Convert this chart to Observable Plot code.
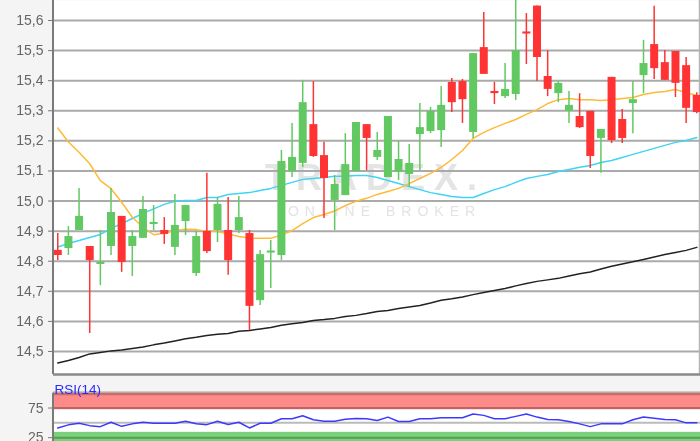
<!DOCTYPE html>
<html><head><meta charset="utf-8">
<script src="https://cdn.jsdelivr.net/npm/d3@7"></script>
<script src="https://cdn.jsdelivr.net/npm/@observablehq/plot@0.6"></script>
<style>
html,body{margin:0;padding:0;background:#f4f4f4;overflow:hidden;}
#wrap{position:relative;width:700px;height:441px;overflow:hidden;font-family:"Liberation Sans",Arial,sans-serif;}
#main{position:absolute;left:0;top:0;}
#rsi{position:absolute;left:0;top:376px;}
g[fill="#e4e4e4"] text{letter-spacing:9px;}
g[fill="#e3e3e3"] text{letter-spacing:6px;}
</style></head><body><div id="wrap"><div id="main"></div><div id="rsi"></div></div>
<script>
// ---- data ----
const openP  = [14.836,14.842,14.902,14.849,14.789,14.849,14.949,14.849,14.876,14.922,14.902,14.846,14.932,14.759,14.899,14.902,14.902,14.902,14.892,14.669,14.829,14.819,15.098,15.125,15.254,15.151,15.002,15.018,15.098,15.254,15.145,15.078,15.095,15.088,15.221,15.231,15.234,15.394,15.397,15.228,15.510,15.364,15.347,15.354,15.560,15.648,15.414,15.357,15.298,15.281,15.298,15.208,15.411,15.271,15.324,15.417,15.520,15.460,15.497,15.450,15.351];
const highP  = [14.892,14.915,15.042,14.849,14.902,15.042,14.949,14.902,15.015,14.985,14.945,15.022,14.985,14.900,15.092,15.012,15.012,15.015,14.902,14.836,14.869,15.168,15.258,15.401,15.397,15.195,15.085,15.224,15.261,15.254,15.228,15.281,15.198,15.188,15.324,15.311,15.381,15.407,15.404,15.490,15.627,15.394,15.457,15.680,15.623,15.648,15.500,15.397,15.364,15.357,15.298,15.238,15.411,15.304,15.397,15.534,15.647,15.500,15.497,15.477,15.360];
const lowP   = [14.802,14.819,14.902,14.560,14.719,14.819,14.763,14.749,14.876,14.902,14.856,14.819,14.885,14.749,14.826,14.862,14.753,14.892,14.570,14.653,14.709,14.802,15.078,15.111,15.145,14.942,14.902,15.018,15.098,15.101,15.135,15.078,15.068,15.045,15.101,15.224,15.178,15.294,15.258,15.208,15.421,15.321,15.341,15.334,15.454,15.397,15.347,15.327,15.258,15.241,15.108,15.092,15.191,15.191,15.224,15.357,15.404,15.401,15.344,15.258,15.290];
const closeP = [14.819,14.882,14.949,14.802,14.796,14.962,14.796,14.882,14.972,14.929,14.889,14.919,14.985,14.882,14.832,14.989,14.802,14.945,14.650,14.822,14.832,15.131,15.145,15.327,15.148,15.075,15.055,15.121,15.261,15.208,15.168,15.281,15.138,15.125,15.244,15.298,15.318,15.327,15.337,15.490,15.421,15.357,15.371,15.500,15.557,15.477,15.371,15.391,15.318,15.244,15.148,15.238,15.201,15.208,15.337,15.457,15.440,15.401,15.391,15.308,15.294];
const maOrange = [15.243,15.196,15.162,15.124,15.068,15.041,14.996,14.946,14.913,14.888,14.893,14.902,14.906,14.905,14.900,14.899,14.891,14.882,14.877,14.876,14.876,14.887,14.902,14.925,14.945,14.955,14.967,14.985,14.999,15.009,15.022,15.032,15.042,15.058,15.075,15.092,15.112,15.138,15.168,15.208,15.228,15.244,15.258,15.271,15.288,15.304,15.324,15.337,15.341,15.337,15.337,15.334,15.337,15.341,15.344,15.354,15.361,15.364,15.371,15.361,15.351];
const maCyan = [14.847,14.859,14.869,14.879,14.889,14.909,14.925,14.942,14.959,14.974,14.989,14.999,15.002,15.002,15.012,15.012,15.022,15.025,15.028,15.035,15.042,15.052,15.062,15.072,15.075,15.078,15.082,15.082,15.085,15.085,15.078,15.068,15.058,15.048,15.038,15.028,15.022,15.015,15.012,15.012,15.025,15.038,15.048,15.062,15.075,15.082,15.088,15.098,15.105,15.112,15.118,15.128,15.135,15.145,15.155,15.165,15.175,15.185,15.195,15.201,15.211];
const maBlack = [14.462,14.470,14.480,14.492,14.497,14.502,14.505,14.510,14.515,14.522,14.528,14.535,14.542,14.547,14.553,14.557,14.560,14.567,14.570,14.575,14.580,14.587,14.592,14.596,14.603,14.606,14.610,14.616,14.620,14.626,14.633,14.636,14.643,14.648,14.653,14.661,14.670,14.675,14.681,14.689,14.696,14.703,14.709,14.718,14.726,14.733,14.738,14.743,14.751,14.758,14.764,14.774,14.783,14.791,14.798,14.806,14.814,14.822,14.829,14.836,14.846];
const rsi14 = [41.4,46.6,49.3,45.3,43.6,51,44.1,48.3,51,49.3,49.3,49.3,52.8,48.5,47,52.8,47.1,51,41.4,49.3,49.3,56.9,56.9,62.1,55.2,52.8,52.8,56.2,57.4,56.9,54,59.7,52.2,52.2,56.9,56.9,58.6,58.6,58.6,64.8,62.6,56.9,56.9,60.9,64.8,59.7,55.5,55.2,52.2,48.3,43.6,48.3,48.3,48.3,55.2,59.7,57.9,55.7,55.2,50,50];
const yTicks = [14.5,14.6,14.7,14.8,14.9,15.0,15.1,15.2,15.3,15.4,15.5,15.6];
const rsiTicks = [25,75];
const rsiGrid = [25,50,75];
const bandLo = [72,0];
const bandHi = [100,34];
const bandColor = ["#ff8a8a","#79d279"];
const rsiLabel = "RSI(14)";
const wmBig = "TRADEX.";
const wmSmall = "ONLINE BROKER";

// ---- derived tables ----
const GREEN = "#62c962", RED = "#ff3333";
const candles = openP.map((o,i)=>{
  const c = closeP[i];
  let lo = Math.min(o,c), hi = Math.max(o,c);
  if (hi - lo < 0.007) { const m=(hi+lo)/2; lo=m-0.0035; hi=m+0.0035; }
  return {i, o, c, h: highP[i], l: lowP[i], lo, hi, col: c >= o ? GREEN : RED};
});
const xDomain = [-0.4, 60.35];
const yDomain = [14.4235, 15.6665];
const fmt = d => d.toFixed(1).replace(".", ",");
const idx = (d,i)=>i;

const main = Plot.plot({
  width: 700, height: 376,
  marginLeft: 53, marginRight: 0, marginTop: 0, marginBottom: 2,
  style: {background: "transparent", color: "#666", fontFamily: "Liberation Sans, Arial, sans-serif"},
  x: {domain: xDomain, axis: null},
  y: {domain: yDomain, axis: null},
  marks: [
    Plot.frame({fill: "white", stroke: "none"}),
    Plot.text([wmBig], {frameAnchor: "top-left", dx: 322, dy: 164, textAnchor: "middle", fontSize: 36, fontWeight: "bold", fill: "#e4e4e4"}),
    Plot.text([wmSmall], {frameAnchor: "top-left", dx: 331, dy: 206, textAnchor: "middle", fontSize: 14, fill: "#e3e3e3"}),
    Plot.gridY(yTicks, {stroke: "#aaaaaa", strokeWidth: 2, strokeOpacity: 1}),
    Plot.ruleX([xDomain[1]], {stroke: "#b5b5b5", strokeWidth: 1.5, dx: -1}),
    Plot.line(maBlack, {x: idx, y: d=>d, stroke: "#222", strokeWidth: 1.5}),
    Plot.line(maCyan, {x: idx, y: d=>d, stroke: "#3fd4f5", strokeWidth: 1.5}),
    Plot.line(maOrange, {x: idx, y: d=>d, stroke: "#ffb938", strokeWidth: 1.5}),
    Plot.ruleX(candles, {x: "i", y1: "l", y2: "h", stroke: "col", strokeWidth: 1.5}),
    Plot.ruleX(candles, {x: "i", y1: "lo", y2: "hi", stroke: "col", strokeWidth: 8}),
    Plot.ruleX([xDomain[0]], {stroke: "#7a7a7a", strokeWidth: 2, dx: -0.5}),
    Plot.ruleY([yDomain[0]], {stroke: "#8a8a8a", strokeWidth: 2.5}),
    Plot.axisY(yTicks, {tickFormat: fmt, tickSize: 5, tickPadding: 5, fontSize: 14, label: null, stroke: "#7a7a7a"})
  ]
});
document.getElementById("main").appendChild(main);

const bands = bandLo.map((lo,i)=>({lo, hi: bandHi[i], color: bandColor[i]}));
const rsi = Plot.plot({
  width: 700, height: 76,
  marginLeft: 53, marginRight: 0, marginTop: 16.7, marginBottom: 0,
  style: {background: "transparent", color: "#666", overflow: "visible", fontFamily: "Liberation Sans, Arial, sans-serif"},
  x: {domain: xDomain, axis: null},
  y: {domain: [0, 100], axis: null},
  marks: [
    Plot.frame({fill: "white", stroke: "none"}),
    Plot.rect(bands, {y1: "lo", y2: "hi", fill: "color"}),
    Plot.gridY(rsiGrid, {stroke: "#bbbbbb", strokeWidth: 2, strokeOpacity: 1, mixBlendMode: "multiply"}),
    Plot.ruleY([100], {stroke: "#c8c8c8", strokeWidth: 4, mixBlendMode: "multiply"}),
    Plot.line(rsi14, {x: idx, y: d=>d, stroke: "#3a3aff", strokeWidth: 1.5}),
    Plot.ruleX([xDomain[0]], {stroke: "#7a7a7a", strokeWidth: 2, dx: -0.5}),
    Plot.axisY(rsiTicks, {tickSize: 5, tickPadding: 5, fontSize: 14, label: null, stroke: "#7a7a7a"}),
    Plot.text([rsiLabel], {frameAnchor: "top-left", dx: 1, dy: -9, textAnchor: "start", fill: "#2a2aff", fontSize: 13.5})
  ]
});
document.getElementById("rsi").appendChild(rsi);
</script></body></html>
